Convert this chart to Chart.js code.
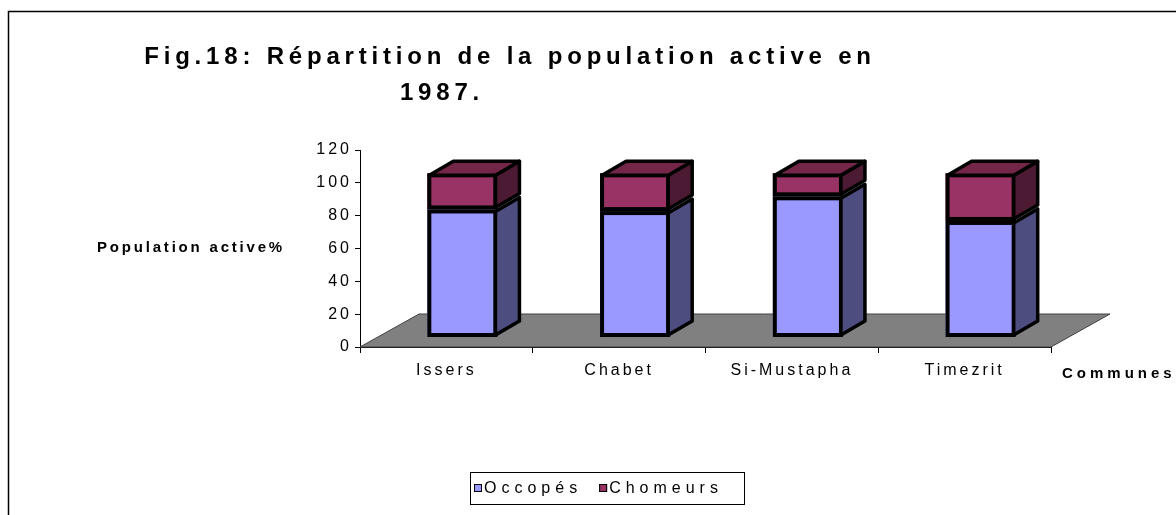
<!DOCTYPE html>
<html><head><meta charset="utf-8">
<script src="https://cdn.jsdelivr.net/npm/chart.js@4/dist/chart.umd.min.js"></script>
<style>html,body{margin:0;padding:0;background:#fff;overflow:hidden}#wrap{width:1176px;height:515px;position:relative}</style>
</head><body><div id="wrap"><canvas id="c" width="1176" height="515"></canvas></div>
<script>
const titleLines = ['Fig.18: Répartition de la population active en', '1987.'];
const categories = ['Issers', 'Chabet', 'Si-Mustapha', 'Timezrit'];
const occupes = [78, 77, 86, 71];
const chomeurs = [22, 23, 14, 29];
const seriesNames = ['Occopés', 'Chomeurs'];
const yTicks = [0, 20, 40, 60, 80, 100, 120];
const yAxisTitle = 'Population active%';
const xAxisTitle = 'Communes';

const FONT = '"Liberation Sans", Arial, sans-serif';
const frontColors = ['#9999FF', '#993366'];
const sideColors = ['#4D4D80', '#4D1A33'];
const topColor = '#732648';
const FLOOR = {dx: 59, dy: -33};
const BAR_OFF = {dx: 16, dy: -9.5};
const BAR_DEPTH = {dx: 24, dy: -14};
const EDGE = 4;

function poly(ctx, pts, fill, stroke, lw) {
  ctx.beginPath();
  ctx.moveTo(pts[0][0], pts[0][1]);
  for (let i = 1; i < pts.length; i++) ctx.lineTo(pts[i][0], pts[i][1]);
  ctx.closePath();
  if (fill) { ctx.fillStyle = fill; ctx.fill(); }
  if (stroke) { ctx.strokeStyle = stroke; ctx.lineWidth = lw; ctx.lineJoin = 'round'; ctx.stroke(); }
}

const threeD = {
  id: 'threeD',
  beforeDraw(chart) {
    chart.ctx.letterSpacing = '3px';
  },
  beforeDatasetsDraw(chart) {
    const ctx = chart.ctx, a = chart.chartArea;
    const y0 = chart.scales.y.getPixelForValue(0);
    ctx.save();
    poly(ctx, [[a.left, y0], [a.right, y0], [a.right + FLOOR.dx, y0 + FLOOR.dy], [a.left + FLOOR.dx, y0 + FLOOR.dy]], '#808080', '#404040', 1);
    ctx.restore();
    ctx.save();
    ctx.translate(BAR_OFF.dx, BAR_OFF.dy);
  },
  afterDatasetsDraw(chart) {
    const ctx = chart.ctx;
    const n = chart.data.datasets.length;
    for (let d = 0; d < n; d++) {
      const meta = chart.getDatasetMeta(d);
      meta.data.forEach(el => {
        const p = el.getProps(['x', 'y', 'base', 'width'], true);
        const r = p.x + p.width / 2, l = p.x - p.width / 2;
        const t = Math.min(p.y, p.base), b = Math.max(p.y, p.base);
        // front face outline (inset so the outer edge matches the bar)
        ctx.strokeStyle = '#000'; ctx.lineWidth = EDGE; ctx.lineJoin = 'miter';
        ctx.strokeRect(l + EDGE / 2, t + EDGE / 2, p.width - EDGE, b - t - EDGE);
        const rr = r - EDGE / 2;
        poly(ctx, [[rr, t + EDGE / 2], [rr + BAR_DEPTH.dx, t + EDGE / 2 + BAR_DEPTH.dy], [rr + BAR_DEPTH.dx, b - EDGE / 2 + BAR_DEPTH.dy], [rr, b - EDGE / 2]], sideColors[d], '#000', 3.5);
        if (d === n - 1) {
          const tt = t + EDGE / 2, ll = l + EDGE / 2;
          poly(ctx, [[ll, tt], [ll + BAR_DEPTH.dx, tt + BAR_DEPTH.dy], [rr + BAR_DEPTH.dx, tt + BAR_DEPTH.dy], [rr, tt]], topColor, '#000', 3.5);
        }
      });
    }
    ctx.restore();
  },
  afterDraw(chart) {
    const ctx = chart.ctx;
    ctx.save();
    // frame
    ctx.strokeStyle = '#000'; ctx.lineWidth = 1.5;
    ctx.strokeRect(8.5, 11.5, 1300, 700);
    ctx.fillStyle = '#000';
    ctx.textBaseline = 'middle';
    // title
    ctx.font = 'bold 24px ' + FONT;
    ctx.letterSpacing = '4.8px';
    ctx.textAlign = 'center';
    ctx.fillText(titleLines[0], 510, 57);
    ctx.fillText(titleLines[1], 442, 93);
    // axis titles
    ctx.font = 'bold 15px ' + FONT;
    ctx.letterSpacing = '2.8px';
    ctx.fillText(yAxisTitle, 191, 248);
    ctx.textAlign = 'left';
    ctx.font = 'bold 15px ' + FONT;
    ctx.letterSpacing = '4px';
    ctx.fillText(xAxisTitle, 1062, 374);
    // legend
    const bx = 470, by = 472, bw = 274, bh = 32;
    ctx.lineWidth = 1; ctx.strokeStyle = '#000';
    ctx.strokeRect(bx + 0.5, by + 0.5, bw, bh);
    ctx.font = '16px ' + FONT;
    ctx.letterSpacing = '5px';
    let x = bx + 4;
    const cy = by + bh / 2;
    chart.data.datasets.forEach((ds, i) => {
      ctx.fillStyle = ds.backgroundColor;
      ctx.fillRect(x, cy - 4, 8, 8);
      ctx.strokeStyle = '#000';
      ctx.strokeRect(x + 0.5, cy - 4 + 0.5, 7, 7);
      ctx.fillStyle = '#000';
      ctx.fillText(ds.label, x + 10, cy + 1);
      x += 10 + ctx.measureText(ds.label).width + 17;
    });
    ctx.restore();
  }
};

new Chart(document.getElementById('c'), {
  type: 'bar',
  data: {
    labels: categories,
    datasets: [
      {label: seriesNames[0], data: occupes, backgroundColor: frontColors[0], borderWidth: 0},
      {label: seriesNames[1], data: chomeurs, backgroundColor: frontColors[1], borderWidth: 0}
    ]
  },
  options: {
    responsive: false,
    animation: false,
    devicePixelRatio: 1,
    layout: {padding: {left: 0, top: 150, right: 125, bottom: 128}},
    datasets: {bar: {categoryPercentage: 1, barPercentage: 0.406}},
    plugins: {legend: {display: false}, title: {display: false}, tooltip: {enabled: false}},
    scales: {
      x: {
        stacked: true,
        grid: {drawOnChartArea: false, drawTicks: true, tickLength: 6, color: '#000', offset: true},
        border: {color: '#000', width: 1},
        ticks: {color: '#000', font: {family: FONT, size: 16}, padding: 8, autoSkip: false, maxRotation: 0},
        afterFit: s => { s.height = 40; }
      },
      y: {
        stacked: true, min: 0, max: 120,
        afterBuildTicks: s => { s.ticks = yTicks.map(v => ({value: v})); },
        grid: {drawOnChartArea: false, drawTicks: true, tickLength: 5, color: '#000'},
        border: {color: '#000', width: 1},
        ticks: {color: '#000', font: {family: FONT, size: 16}, padding: 3},
        afterFit: s => { s.width = 360; }
      }
    }
  },
  plugins: [threeD]
});
</script></body></html>
